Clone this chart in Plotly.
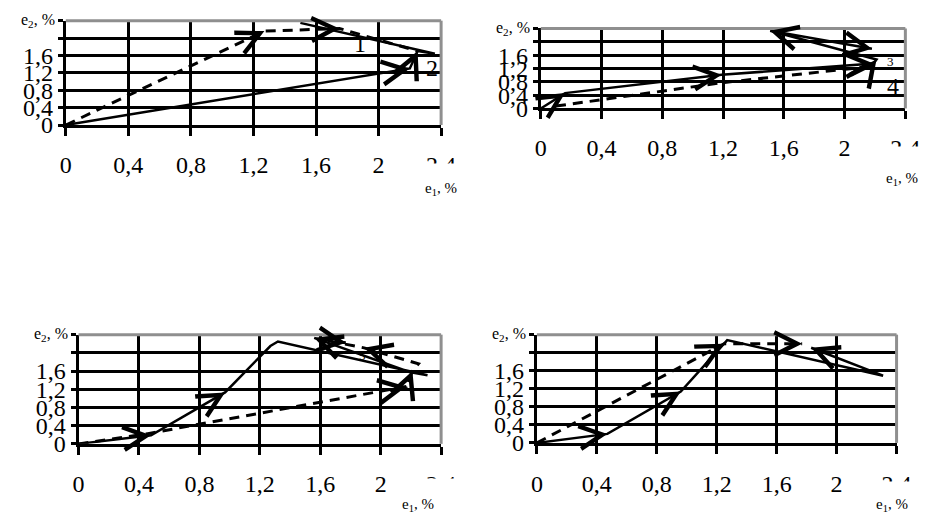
import math

import plotly.graph_objects as go

W, H = 928, 522

# e1, % / e2, %
tl_solid_x = [0, 2.2, 2.25, 2.36, 1.5]
tl_solid_y = [0, 1.3, 1.7, 1.64, 2.35]
tl_dash_x = [0, 1.27, 1.75, 2.25]
tl_dash_y = [0, 2.16, 2.22, 1.7]

tr_solid_x = [0, 0.16, 1.19, 2.19, 2.21, 1.51, 2.18]
tr_solid_y = [0, 0.46, 1.01, 1.35, 1.47, 2.33, 1.79]
tr_dash_x = [0.1, 1.19, 2.17]
tr_dash_y = [0.07, 0.77, 1.26]

bl_solid_x = [0, 0.48, 0.97, 1.27, 1.32, 2.31, 2.19, 1.56]
bl_solid_y = [0, 0.19, 1.13, 2.15, 2.25, 1.51, 1.58, 2.33]
bl_dash_x = [0, 0.45, 2.17, 2.21, 2.25, 1.89, 1.6, 1.77]
bl_dash_y = [0, 0.22, 1.26, 1.6, 1.76, 2.11, 2.3, 2.22]

br_solid_x = [0, 0.47, 0.96, 1.24, 1.27, 2.31, 1.83]
br_solid_y = [0, 0.2, 1.14, 2.18, 2.28, 1.49, 2.11]
br_dash_x = [0, 1.25, 1.77]
br_dash_y = [0, 2.2, 2.2]

# vertices that carry an arrowhead
tl_solid_arr, tl_dash_arr = [1, 2], [1, 2]
tr_solid_arr, tr_dash_arr = [1, 2, 3, 4, 5, 6], []
bl_solid_arr, bl_dash_arr = [1, 2, 3, 7], [2, 3, 5, 7]
br_solid_arr, br_dash_arr = [1, 2, 3, 6], [1, 2]

tick_vals = [0, 0.4, 0.8, 1.2, 1.6, 2.0, 2.4]
x_ticktext = ["0", "0,4", "0,8", "1,2", "1,6", "2", "2,4"]
y_ticktext = ["0", "0,4", "0,8", "1,2", "1,6", "", ""]

# curve labels: (text, x, y, size)
tl_labels = [("1", 1.88, 1.86, 24), ("2", 2.34, 1.31, 24)]
tr_labels = [("3", 2.3, 1.42, 13), ("4", 2.32, 0.67, 24)]
bl_labels = [("5", 1.88, 1.95, 13)]
br_labels = []

FONT = "Liberation Serif"

# box = (yshift, height, width, xshift, align) of the e1 title box
panels = [
    dict(sx=(tl_solid_x, tl_solid_y, tl_solid_arr), dx=(tl_dash_x, tl_dash_y, tl_dash_arr),
         labels=tl_labels, xd=[53 / W, 437 / W], yd=[1 - 120 / H, 1 - 13 / H],
         standoff=8, box=(-38, 50, 44, 0, "center")),
    dict(sx=(tr_solid_x, tr_solid_y, tr_solid_arr), dx=(tr_dash_x, tr_dash_y, tr_dash_arr),
         labels=tr_labels, xd=[539 / W, 912 / W], yd=[1 - 103 / H, 1 - 21 / H],
         standoff=8, box=(-38, 64, 44, -3, "center")),
    dict(sx=(bl_solid_x, bl_solid_y, bl_solid_arr), dx=(bl_dash_x, bl_dash_y, bl_dash_arr),
         labels=bl_labels, xd=[66 / W, 437 / W], yd=[1 - 447 / H, 1 - 335 / H],
         standoff=8, box=(-34, 52, 60, -9, "left")),
    dict(sx=(br_solid_x, br_solid_y, br_solid_arr), dx=(br_dash_x, br_dash_y, br_dash_arr),
         labels=br_labels, xd=[535 / W, 903 / W], yd=[1 - 446 / H, 1 - 335 / H],
         standoff=9, box=(-38, 46, 44, -5, "center")),
]


def arrow_notes(xs, ys, idx, n, kx, ky):
    notes = []
    for i in idx:
        dx = (xs[i] - xs[i - 1]) * kx
        dy = (ys[i] - ys[i - 1]) * ky
        d = math.hypot(dx, dy)
        notes.append(dict(
            x=xs[i], y=ys[i], xref=f"x{n}", yref=f"y{n}",
            ax=-dx / d * 11, ay=dy / d * 11, text="", showarrow=True,
            arrowhead=5, arrowsize=1.8, arrowwidth=2.5, arrowcolor="black",
        ))
    return notes


fig = go.Figure()
annotations = []
shapes = []

for n, p in enumerate(panels, start=1):
    kx = W * (p["xd"][1] - p["xd"][0]) / 2.4
    ky = H * (p["yd"][1] - p["yd"][0]) / 2.4
    sfx = "" if n == 1 else str(n)

    xs, ys, arr = p["sx"]
    fig.add_trace(go.Scatter(x=xs, y=ys, mode="lines", xaxis=f"x{sfx}", yaxis=f"y{sfx}",
                             line=dict(color="black", width=2.5), hoverinfo="skip"))
    annotations += arrow_notes(xs, ys, arr, sfx, kx, ky)

    xs, ys, arr = p["dx"]
    fig.add_trace(go.Scatter(x=xs, y=ys, mode="lines", xaxis=f"x{sfx}", yaxis=f"y{sfx}",
                             line=dict(color="black", width=3, dash="10px,7px"),
                             hoverinfo="skip"))
    annotations += arrow_notes(xs, ys, arr, sfx, kx, ky)

    for txt, lx, ly, size in p["labels"]:
        annotations.append(dict(x=lx, y=ly, xref=f"x{sfx}", yref=f"y{sfx}", text=txt,
                                showarrow=False, font=dict(family=FONT, size=size, color="black")))

    # axis titles
    annotations.append(dict(x=0, y=1, xref=f"x{sfx} domain", yref=f"y{sfx} domain",
                            text="e<sub>2</sub>, %", showarrow=False, xanchor="right",
                            yanchor="middle", xshift=-9,
                            font=dict(family=FONT, size=16, color="black")))
    shift, hgt, wid, bx, al = p["box"]
    annotations.append(dict(x=1, y=0, xref=f"x{sfx} domain", yref=f"y{sfx} domain",
                            text="e<sub>1</sub>, %", showarrow=False, xanchor="center",
                            yanchor="top", yshift=shift, xshift=bx, height=hgt, width=wid,
                            align=al, valign="middle", bgcolor="white", borderpad=0,
                            font=dict(family=FONT, size=15, color="black")))

    # grey frame on top and right
    for x0, y0, x1, y1 in [(0, 1, 1, 1), (1, 0, 1, 1)]:
        shapes.append(dict(type="line", xref=f"x{sfx} domain", yref=f"y{sfx} domain",
                           x0=x0, y0=y0, x1=x1, y1=y1, layer="above",
                           line=dict(color="#8f8f8f", width=3)))

    fig.update_layout(**{
        f"xaxis{sfx}": dict(
            domain=p["xd"], anchor=f"y{sfx}", range=[0, 2.4], tickvals=tick_vals,
            ticktext=x_ticktext, showgrid=True, gridcolor="black", gridwidth=3,
            showline=True, linecolor="black", linewidth=3, zeroline=False,
            ticks="outside", ticklen=8, tickwidth=3, tickcolor="black",
            ticklabelstandoff=p["standoff"], fixedrange=True,
            tickfont=dict(family=FONT, size=24, color="black"),
        ),
        f"yaxis{sfx}": dict(
            domain=p["yd"], anchor=f"x{sfx}", range=[0, 2.4], tickvals=tick_vals,
            ticktext=y_ticktext, showgrid=True, gridcolor="black", gridwidth=3,
            showline=True, linecolor="black", linewidth=3, zeroline=False,
            ticks="outside", ticklen=5, tickwidth=3, tickcolor="black", fixedrange=True,
            tickfont=dict(family=FONT, size=24, color="black"),
        ),
    })

fig.update_layout(
    width=W, height=H, margin=dict(l=0, r=0, t=0, b=0),
    paper_bgcolor="white", plot_bgcolor="white", showlegend=False,
    annotations=annotations, shapes=shapes,
)

fig.write_html("out.html")
